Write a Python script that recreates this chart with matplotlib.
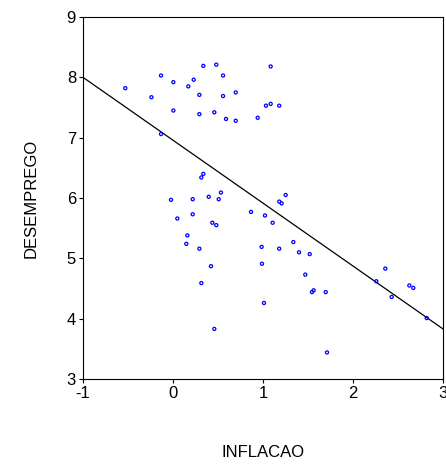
import matplotlib
matplotlib.use("Agg")
import matplotlib.pyplot as plt
import numpy as np

plt.rcParams['font.family'] = ['Liberation Sans', 'DejaVu Sans']

inflacao = [0.337, 0.481, 1.085, -0.133, 0.556, 0.004, 0.23, 0.17, -0.53, -0.24,
            0.293, 0.556, 0.697, 1.033, 1.085, 1.18, 0.004, 0.293, 0.459, 0.589,
            0.697, 0.941, -0.133, 0.337, 0.315, -0.022, 0.219, 0.397, 0.508, 0.533,
            0.048, 0.219, 0.867, 1.022, 1.107, 0.437, 0.481, 0.159, 0.148, 0.293,
            0.985, 1.18, 1.252, 1.181, 1.207, 1.337, 1.40, 1.519, 0.989, 1.47,
            1.544, 1.563, 1.697, 1.011, 1.711, 2.359, 2.259, 2.626, 2.67, 2.43,
            2.819, 0.422, 0.315, 0.459]
desemprego = [8.19, 8.21, 8.18, 8.03, 8.03, 7.92, 7.96, 7.85, 7.82, 7.67,
              7.71, 7.69, 7.75, 7.53, 7.56, 7.53, 7.45, 7.39, 7.42, 7.31,
              7.28, 7.33, 7.06, 6.40, 6.34, 5.97, 5.98, 6.02, 5.98, 6.09,
              5.66, 5.73, 5.77, 5.71, 5.59, 5.59, 5.55, 5.38, 5.24, 5.16,
              5.19, 5.16, 6.05, 5.94, 5.91, 5.27, 5.10, 5.07, 4.91, 4.73,
              4.44, 4.47, 4.44, 4.26, 3.44, 4.83, 4.62, 4.55, 4.51, 4.36,
              4.01, 4.87, 4.59, 3.83]

# fitted regression line endpoints
line_x = [-1, 3]
line_y = [8.0, 3.83]

xticks = [-1, 0, 1, 2, 3]
yticks = [3, 4, 5, 6, 7, 8, 9]

fig = plt.figure(figsize=(4.46, 4.65), dpi=100)
ax = fig.add_axes([83/446, 1-379/465, (443-83)/446, (379-17)/465])

ax.plot(line_x, line_y, color='black', linewidth=0.9, zorder=2)
ax.scatter(inflacao, desemprego, s=5, facecolors='none', edgecolors='#0000ff',
           linewidths=0.9, zorder=3)

ax.set_xlim(-1, 3)
ax.set_ylim(3, 9)
ax.set_xticks(xticks)
ax.set_yticks(yticks)
ax.set_xticklabels([str(t) for t in xticks])
ax.set_yticklabels([str(t) for t in yticks])
ax.tick_params(direction='out', length=3, width=0.8, labelsize=12, pad=2)
for s in ax.spines.values():
    s.set_linewidth(0.8)
    s.set_color('black')

ax.set_xlabel('INFLACAO', fontsize=12, labelpad=32)
ax.set_ylabel('DESEMPREGO', fontsize=12, labelpad=20)

fig.savefig('out.png', dpi=100)
